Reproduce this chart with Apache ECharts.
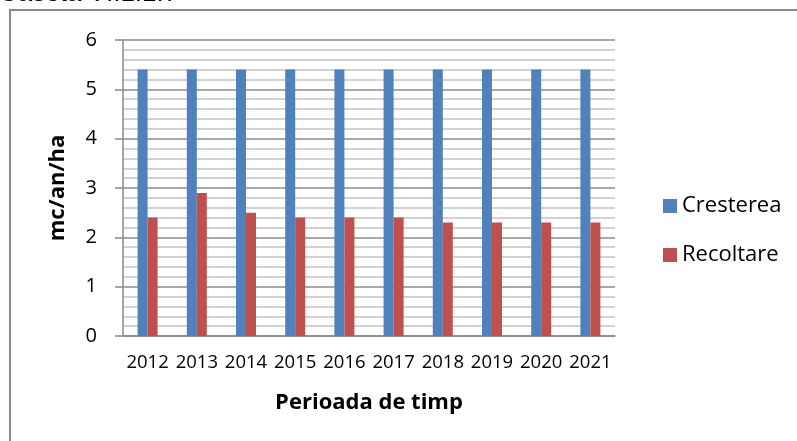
<!DOCTYPE html>
<html>
<head>
<meta charset="utf-8">
<script src="https://cdn.jsdelivr.net/npm/echarts@6/dist/echarts.min.js"></script>
<style>
html,body{margin:0;padding:0;background:#fff;}
#c{width:797px;height:441px;}
</style>
</head>
<body>
<div id="c"></div>
<script>
const categories = ['2012','2013','2014','2015','2016','2017','2018','2019','2020','2021'];
const cresterea = [5.4,5.4,5.4,5.4,5.4,5.4,5.4,5.4,5.4,5.4];
const recoltare = [2.4,2.9,2.5,2.4,2.4,2.4,2.3,2.3,2.3,2.3];
const seriesNames = ['Cresterea','Recoltare'];
const yTicks = {min:0, max:6, interval:1};
const titleText = 'Caseta VI.1.1.7';
const yName = 'mc/an/ha';
const xName = 'Perioada de timp';

const font = 'Open Sans';
const chart = echarts.init(document.getElementById('c'), null, {renderer:'canvas'});
chart.setOption({
  animation:false,
  backgroundColor:'#fff',
  color:['#4F81BD','#C0504D'],
  grid:{left:123, right:182, top:40, bottom:105, containLabel:false},
  graphic:[
    {type:'rect', shape:{x:10, y:10, width:800, height:450}, style:{fill:'none', stroke:'#8a8a8a', lineWidth:2}, z:-1},
    {type:'text', x:-1, y:-6.5, style:{text:titleText, font:'26px "Liberation Sans"', fill:'#000', verticalAlign:'middle'}}
  ],
  legend:{
    orient:'vertical', left:658, top:190, itemWidth:14, itemHeight:14, itemGap:27,
    icon:'rect', data:seriesNames,
    textStyle:{fontFamily:font, fontSize:22, color:'#000'}
  },
  xAxis:{
    type:'category', data:categories,
    name:xName, nameLocation:'middle', nameGap:56,
    nameTextStyle:{fontFamily:font, fontSize:22, fontWeight:'bold', color:'#000'},
    axisLine:{lineStyle:{color:'#8a8a8a', width:1.5}},
    axisTick:{show:false},
    axisLabel:{fontFamily:font, fontSize:18.5, color:'#000', margin:17, interval:0}
  },
  yAxis:{
    type:'value', min:yTicks.min, max:yTicks.max, interval:yTicks.interval,
    name:yName, nameLocation:'middle', nameGap:54, nameRotate:90,
    nameTextStyle:{fontFamily:font, fontSize:22, fontWeight:'bold', color:'#000'},
    axisLine:{show:true, lineStyle:{color:'#8a8a8a', width:1.5}},
    axisTick:{show:true, inside:false, length:8, lineStyle:{color:'#8a8a8a', width:1.5}},
    axisLabel:{fontFamily:font, fontSize:20, color:'#000', margin:26},
    splitLine:{show:true, lineStyle:{color:'#8c8c8c', width:1.5}},
    minorTick:{show:false, splitNumber:5},
    minorSplitLine:{show:true, lineStyle:{color:'#c4c4c4', width:1.5}}
  },
  series:[
    {name:seriesNames[0], type:'bar', data:cresterea, barWidth:10, barGap:'0%'},
    {name:seriesNames[1], type:'bar', data:recoltare, barWidth:10, barGap:'0%'}
  ]
});
</script>
</body>
</html>
